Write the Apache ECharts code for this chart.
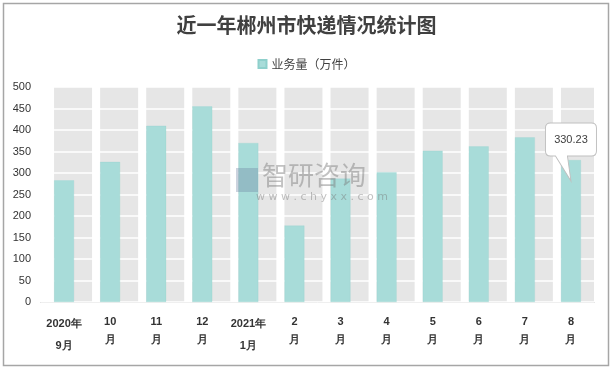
<!DOCTYPE html>
<html><head><meta charset="utf-8">
<script src="https://cdn.jsdelivr.net/npm/echarts@6/dist/echarts.min.js"></script>
<style>html,body{margin:0;padding:0;background:#fff}#c{width:613px;height:370px}</style>
</head><body><div id="c"></div>
<script>
const categories = ['2020年\n9月','10\n月','11\n月','12\n月','2021年\n1月','2\n月','3\n月','4\n月','5\n月','6\n月','7\n月','8\n月'];
const volume = [283, 326, 410, 455, 370, 178, 287, 302, 352, 362, 383, 330.23];
const yMin = 0, yMax = 500, yStep = 50;
const seriesName = '业务量（万件）';
const calloutIndex = 11;

const chart = echarts.init(document.getElementById('c'), null, {renderer:'canvas'});
const bgData = categories.map(() => yMax);
chart.setOption({
  animation:false,
  backgroundColor:'#fff',
  title:{text:'近一年郴州市快递情况统计图', left:'center', top:10,
    textStyle:{fontFamily:'Noto Sans CJK SC', fontSize:20, fontWeight:'bold', color:'#404040'}},
  legend:{data:[seriesName], top:53, left:'center', icon:'rect', itemWidth:8, itemHeight:8,
    itemGap:4, textStyle:{fontFamily:'Noto Sans CJK SC', fontSize:12, color:'#404040'}},
  grid:{left:41, right:19, top:87, bottom:68},
  xAxis:{type:'category', data:categories,
    axisLine:{lineStyle:{color:'#bfbfbf'}}, axisTick:{show:false},
    axisLabel:{margin:11, interval:0,
      formatter:function(v){const p=v.split('\n'); const s=v.indexOf('年')>=0?'y':'m'; return '{'+s+'|'+p[0]+'}\n{'+s+'|'+p[1]+'}';},
      rich:{
        y:{fontFamily:'Liberation Sans', fontSize:11, fontWeight:'bold', color:'#333', lineHeight:22},
        m:{fontFamily:'Liberation Sans', fontSize:11, fontWeight:'bold', color:'#333', lineHeight:18}
      }}},
  yAxis:{type:'value', min:yMin, max:yMax, interval:yStep, z:2,
    axisLine:{show:false}, axisTick:{show:false},
    axisLabel:{margin:10, fontFamily:'Liberation Sans', fontSize:11, color:'#333'},
    splitLine:{lineStyle:{color:'#ffffff', width:1.5}}},
  graphic:[
    {type:'rect', shape:{x:3.5, y:3.5, width:605, height:362}, style:{fill:'none', stroke:'#a6a6a6', lineWidth:1.5}, z:0, silent:true},
    {type:'text', left:262, top:162, z:10, silent:true,
      style:{text:'智研咨询', font:'26px "Noto Sans CJK SC"', fill:'rgba(120,120,120,0.45)'}},
    {type:'text', left:256, top:192, z:10, silent:true,
      style:{text:'w w w . c h y x x . c o m', font:'11px "DejaVu Sans"', fill:'rgba(120,120,120,0.45)'}},
    {type:'rect', shape:{x:236, y:168, width:22, height:24}, style:{fill:'rgba(110,130,160,0.35)'}, z:10, silent:true}
  ],
  series:[
    {name:'bg', type:'bar', data:bgData, barWidth:38, barGap:'-100%', z:1, silent:true,
      itemStyle:{color:'#e6e6e6'}},
    {name:seriesName, type:'bar', data:volume, barWidth:20, z:3,
      itemStyle:{color:'#a8dcd9', borderColor:'#8fd0cc', borderWidth:0.5, borderType:'dotted'},
      markPoint:{
        symbol:'path://M5,0 L46,0 Q51,0 51,5 L51,28 Q51,33 46,33 L22,33 L25.5,58 L10,33 L5,33 Q0,33 0,28 L0,5 Q0,0 5,0 Z',
        symbolSize:[51,58], symbolOffset:[0,-8],
        itemStyle:{color:'#ffffff', borderColor:'#bfbfbf', borderWidth:1},
        label:{show:true, position:'inside', offset:[0,-12], color:'#404040',
          fontFamily:'Liberation Sans', fontSize:11, formatter:function(p){return p.value.toFixed(2);}},
        data:[{coord:[calloutIndex, volume[calloutIndex]], value:volume[calloutIndex]}]
      }}
  ]
});
</script></body></html>
